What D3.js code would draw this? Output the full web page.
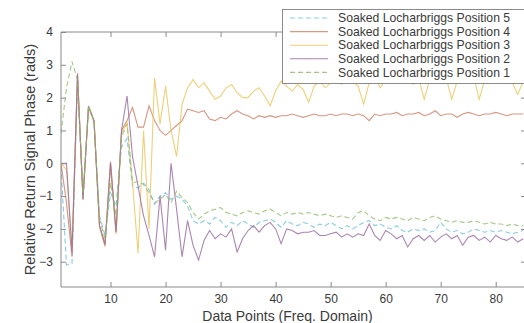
<!DOCTYPE html>
<html><head><meta charset="utf-8">
<script src="https://cdn.jsdelivr.net/npm/d3@7"></script>
<style>body{margin:0;background:#fff;}svg{display:block;font-family:"Liberation Sans",Arial,sans-serif;}</style>
</head><body>
<svg id="chart" width="524" height="323"></svg>
<script>
const seriesNames = ["Soaked Locharbriggs Position 5","Soaked Locharbriggs Position 4","Soaked Locharbriggs Position 3","Soaked Locharbriggs Position 2","Soaked Locharbriggs Position 1"];
const xTicks = [10,20,30,40,50,60,70,80];
const yTicks = [-3,-2,-1,0,1,2,3,4];
const pos5 = [-0.1,-3.1,-3.05,2.4,-1.0,1.7,1.25,-1.6,-2.2,-0.9,-1.3,0.5,0.75,-0.7,-0.75,-0.6,-0.8,-1.25,-1.0,-0.9,-1.1,-1.0,-1.1,-1.3,-1.75,-1.85,-1.75,-1.85,-1.65,-1.75,-1.95,-1.8,-1.9,-1.75,-1.85,-1.95,-1.8,-1.75,-1.7,-1.8,-1.95,-1.75,-1.85,-1.9,-1.8,-1.85,-1.95,-1.85,-1.9,-1.8,-1.9,-2.0,-1.9,-2.0,-1.9,-1.8,-1.75,-1.9,-1.85,-1.95,-2.0,-1.9,-2.05,-2.1,-2.0,-2.05,-2.0,-2.1,-2.05,-1.8,-2.0,-2.1,-2.05,-2.15,-2.1,-2.0,-2.05,-2.1,-2.05,-2.1,-2.05,-2.1,-2.15,-2.1,-2.05];
const pos4 = [0.0,-1.2,-2.85,2.75,-1.1,1.7,1.3,-1.9,-2.45,0.05,-2.1,1.0,1.3,1.7,1.1,1.1,1.75,1.3,1.0,0.85,1.0,1.15,1.3,1.65,1.6,1.55,1.6,1.35,1.3,1.4,1.35,1.5,1.6,1.5,1.45,1.35,1.45,1.4,1.45,1.4,1.45,1.45,1.5,1.45,1.4,1.45,1.5,1.45,1.45,1.5,1.45,1.5,1.5,1.45,1.5,1.45,1.3,1.5,1.45,1.5,1.5,1.55,1.45,1.5,1.5,1.55,1.45,1.5,1.6,1.45,1.5,1.5,1.4,1.5,1.55,1.5,1.45,1.5,1.5,1.55,1.5,1.45,1.5,1.5,1.5];
const pos3 = [0.0,-0.2,-2.6,2.6,-1.0,1.7,1.3,-1.95,-2.55,-0.1,-2.15,0.9,1.25,-0.6,-2.75,1.0,-2.0,2.6,1.2,2.35,1.0,0.2,1.8,2.3,2.55,2.3,2.45,2.2,1.95,2.05,2.3,2.4,2.15,2.0,2.0,2.2,2.3,2.05,1.75,2.2,2.5,2.35,2.2,2.4,2.25,1.85,2.35,2.5,2.3,2.45,2.55,2.4,2.6,2.5,2.35,1.8,2.45,2.6,2.3,2.55,2.45,2.6,2.5,2.55,2.4,2.6,1.95,2.55,2.65,2.5,2.6,1.95,2.5,2.6,2.55,2.65,1.95,2.55,2.6,2.5,2.6,2.55,2.45,2.1,2.5];
const pos2 = [0.0,0.0,-2.7,2.7,-1.1,1.75,1.3,-1.9,-2.5,0.0,-2.1,1.0,2.05,0.2,-0.7,-1.6,-2.2,-2.85,-1.0,-2.65,0.0,-1.4,-2.85,-1.75,-2.5,-2.95,-2.35,-2.05,-2.3,-2.15,-2.25,-2.0,-2.7,-2.3,-2.05,-1.9,-2.1,-1.9,-1.8,-2.0,-2.45,-2.0,-2.05,-2.15,-2.1,-2.1,-2.05,-2.2,-2.2,-2.15,-2.1,-2.25,-2.15,-2.25,-2.15,-2.2,-1.85,-2.2,-2.35,-2.05,-2.15,-2.3,-2.2,-2.55,-2.3,-2.2,-2.35,-2.2,-2.4,-2.25,-2.15,-2.3,-2.2,-2.5,-2.25,-2.2,-2.35,-2.25,-2.4,-2.2,-2.3,-2.35,-2.25,-2.4,-2.3];
const pos1 = [0.9,2.3,3.1,2.55,-1.05,1.75,1.3,-1.7,-2.3,-0.6,-1.6,0.8,1.2,-0.6,-0.55,-0.65,-0.9,-1.2,-1.1,-0.95,-1.2,-0.85,-1.05,-1.2,-1.5,-1.7,-1.55,-1.45,-1.4,-1.35,-1.5,-1.55,-1.6,-1.5,-1.45,-1.5,-1.55,-1.45,-1.4,-1.5,-1.6,-1.5,-1.55,-1.5,-1.55,-1.5,-1.55,-1.6,-1.55,-1.6,-1.65,-1.6,-1.65,-1.7,-1.5,-1.45,-1.6,-1.7,-1.75,-1.65,-1.7,-1.65,-1.7,-1.75,-1.65,-1.7,-1.75,-1.65,-1.6,-1.7,-1.75,-1.8,-1.75,-1.8,-1.8,-1.75,-1.8,-1.85,-1.8,-1.85,-1.85,-1.9,-1.85,-1.9,-1.9];

const seriesValues = [pos5,pos4,pos3,pos2,pos1];
const colors = ["#6cbde0","#cc7d64","#eac457","#94679f","#8fba68"];
const dashes = ["5,3",null,null,null,"5,3"];

const svg = d3.select("#chart");
const m = {left:61, top:32, right:526, bottom:287};
const x = d3.scaleLinear().domain([1,85.5]).range([m.left,m.right]);
const y = d3.scaleLinear().domain([-3.77,4]).range([m.bottom,m.top]);
const axisColor = "#8a8a8a";
const textColor = "#3a3a3a";

svg.append("defs").append("clipPath").attr("id","clip").append("rect")
  .attr("x",m.left).attr("y",m.top).attr("width",m.right-m.left).attr("height",m.bottom-m.top);

const line = d3.line().x((d,i)=>x(i+1)).y(d=>y(d));
const g = svg.append("g").attr("clip-path","url(#clip)");
seriesValues.forEach((vals,k)=>{
  g.append("path").datum(vals).attr("d",line).attr("fill","none")
    .attr("stroke",colors[k]).attr("stroke-width",1.1)
    .attr("stroke-dasharray",dashes[k]).attr("stroke-opacity",0.8);
});

// axes
const tl = 5;
const xb = svg.append("g").attr("transform",`translate(0,${m.bottom})`)
  .call(d3.axisBottom(x).tickValues(xTicks).tickSize(-tl).tickPadding(7));
const xt = svg.append("g").attr("transform",`translate(0,${m.top})`)
  .call(d3.axisTop(x).tickValues(xTicks).tickSize(-tl).tickFormat(""));
const yl = svg.append("g").attr("transform",`translate(${m.left},0)`)
  .call(d3.axisLeft(y).tickValues(yTicks).tickSize(-tl).tickPadding(8));
const yr = svg.append("g").attr("transform",`translate(${m.right},0)`)
  .call(d3.axisRight(y).tickValues(yTicks).tickSize(-tl).tickFormat(""));
[xb,xt,yl,yr].forEach(a=>{
  a.selectAll(".domain").attr("stroke",axisColor).attr("stroke-width",1);
  a.selectAll(".tick line").attr("stroke",axisColor);
  a.selectAll(".tick text").attr("fill",textColor).attr("font-size",12)
   .attr("font-family","Liberation Sans, Arial, sans-serif");
});
xb.selectAll(".domain").attr("d",`M${m.left},0H${m.right}`);
xt.selectAll(".domain").attr("d",`M${m.left},0H${m.right}`);
yl.selectAll(".domain").attr("d",`M0,${m.top}V${m.bottom}`);
yr.selectAll(".domain").attr("d",`M0,${m.top}V${m.bottom}`);

// axis labels
svg.append("text").attr("x",(m.left+m.right)/2 - 6).attr("y",321).attr("text-anchor","middle")
  .attr("font-size",14).attr("fill",textColor).text("Data Points (Freq. Domain)");
svg.append("text").attr("transform",`translate(35,${(m.top+m.bottom)/2}) rotate(-90)`)
  .attr("text-anchor","middle").attr("font-size",14.5).attr("fill",textColor)
  .text("Relative Return Signal Phase (rads)");

// legend
const lg = svg.append("g");
lg.append("rect").attr("x",282.5).attr("y",9.5).attr("width",260).attr("height",74)
  .attr("fill","#fff").attr("stroke",axisColor);
seriesNames.forEach((n,k)=>{
  const yy = 18 + k*13.6;
  lg.append("line").attr("x1",290).attr("x2",328).attr("y1",yy).attr("y2",yy)
    .attr("stroke",colors[k]).attr("stroke-width",1.1).attr("stroke-dasharray",dashes[k]).attr("stroke-opacity",0.8);
  lg.append("text").attr("x",338).attr("y",yy+4.2).attr("font-size",12.2).attr("fill",textColor).text(n);
});
</script>
</body></html>
